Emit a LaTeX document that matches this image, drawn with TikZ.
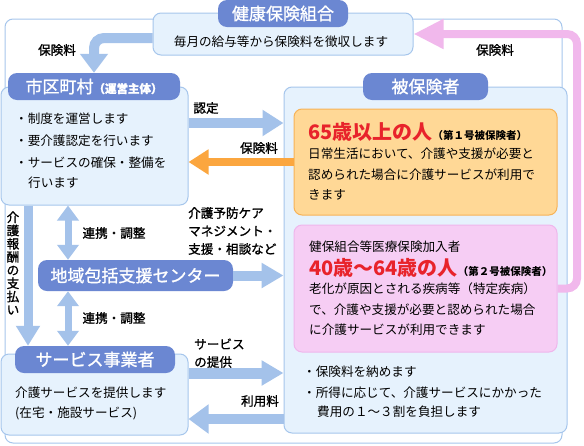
\documentclass[tikz,border=0pt]{standalone}
\usepackage{fontspec}
\setmainfont{Noto Sans CJK JP}
\newfontfamily\medfont{Noto Sans CJK JP}[FakeBold=1.2]
\usetikzlibrary{arrows.meta,calc}
\definecolor{boxfill}{HTML}{E6F2FD}
\definecolor{boxline}{HTML}{A6C6EC}
\definecolor{pillc}{HTML}{6B87D2}
\definecolor{arrblue}{HTML}{A4C2EA}
\definecolor{arrorange}{HTML}{FBA63F}
\definecolor{orfill}{HTML}{FFD896}
\definecolor{orline}{HTML}{F7B357}
\definecolor{pkfill}{HTML}{F6CDF4}
\definecolor{pkline}{HTML}{EFB6EC}
\definecolor{arrpink}{HTML}{F1B8EC}
\definecolor{redtxt}{HTML}{E8232B}
\tikzset{
  bbox/.style={draw=boxline, fill=boxfill, rounded corners=8pt, line width=1pt, inner sep=0pt},
  obox/.style={draw=orline, fill=orfill, rounded corners=8pt, line width=1pt, inner sep=0pt},
  pbox/.style={draw=pkline, fill=pkfill, rounded corners=8pt, line width=1pt, inner sep=0pt},
  pill/.style={fill=pillc, rounded corners=9pt, inner sep=0pt, text=white, font=\fontsize{17}{20}\selectfont\medfont},
  body/.style={anchor=west, inner sep=0pt, font=\fontsize{12.6}{15}\selectfont},
  lbl/.style={inner sep=0pt, font=\fontsize{12.6}{15}\selectfont\medfont},
  barrow/.style={draw=arrblue, line width=10pt, -{Triangle[length=21pt,width=25pt]}},
  darrow/.style={draw=arrblue, line width=7pt, {Triangle[length=15pt,width=21pt]}-{Triangle[length=15pt,width=21pt]}},
}
\begin{document}
\begin{tikzpicture}[x=1pt,y=-1pt]
\useasboundingbox (0,0) rectangle (584,445);
% outer frame
\node[draw=boxline, fill=white, rounded corners=8pt, line width=1pt, minimum width=557, minimum height=424] (frame) at (283.5,231) {};
% boxes
\node[bbox, minimum width=260, minimum height=42] (kenpo) at (283,34) {};
\node[pill, minimum width=130, minimum height=27] (kenpot) at (283,13.5) {健康保険組合};
\node[bbox, minimum width=187, minimum height=118] (shiku) at (94.5,146) {};
\node[pill, minimum width=172, minimum height=27] (shikut) at (94,86.5) {市区町村{\fontsize{11.5}{14}\selectfont\bfseries（運営主体）}};
\node[bbox, minimum width=283, minimum height=346] (hiho) at (425.5,260) {};
\node[pill, minimum width=125, minimum height=27] (hihot) at (425.5,86.5) {被保険者};
\node[obox, minimum width=263, minimum height=106] (orange) at (425.5,162) {};
\node[pbox, minimum width=263, minimum height=127] (pink) at (425.5,288.5) {};
\node[pill, minimum width=195, minimum height=31] (chiiki) at (135.5,275.5) {地域包括支援センター};
\node[bbox, minimum width=187, minimum height=81] (service) at (94.5,394.5) {};
\node[pill, minimum width=160, minimum height=27] (servicet) at (95,359.5) {サービス事業者};
% helper coordinates
\coordinate (ynin) at (0,123);
\coordinate (yteik) at (0,373);
\coordinate (yriyo) at (0,419);
\coordinate (xkai) at (28,0);
\coordinate (xren) at (68,0);
\coordinate (xpk) at (577,0);
% arrows
\draw[barrow, rounded corners=10pt, -{Triangle[length=19pt,width=27pt]}] ([yshift=-4pt]kenpo.west) -| (shikut.north);
\draw[barrow] (shiku.east |- ynin) -- (hiho.west |- ynin);
\draw[draw=arrorange, line width=8pt, -{Triangle[length=20pt,width=24pt]}] (orange.west) -- (orange.west -| shiku.east);
\draw[draw=arrpink, line width=8pt, rounded corners=10pt, -{Triangle[length=30pt,width=28pt]}] (pink.east) -| (xpk |- kenpo.east) -- (kenpo.east);
\draw[barrow, line width=9pt, -{Triangle[length=20pt,width=23pt]}] (xkai |- shiku.south) -- (xkai |- servicet.north);
\draw[darrow] (xren |- shiku.south) -- (xren |- chiiki.north);
\draw[darrow] (xren |- chiiki.south) -- (xren |- servicet.north);
\draw[barrow, -{Triangle[length=22pt,width=24pt]}] (chiiki.east) -- (chiiki.east -| hiho.west);
\draw[barrow, line width=11pt, -{Triangle[length=22pt,width=24pt]}] (service.east |- yteik) -- (hiho.west |- yteik);
\draw[barrow, -{Triangle[length=20pt,width=28pt]}] (hiho.west |- yriyo) -- (service.east |- yriyo);
% texts
\node[body, anchor=center] (t1) at (281,42) {毎月の給与等から保険料を徴収します};
\node[body] (s1) at (15,119) {・制度を運営します};
\node[body] (s2) at (15,141) {・要介護認定を行います};
\node[body] (s3) at (15,163) {・サービスの確保・整備を};
\node[body] (s4) at (28,183) {行います};
\node[body] (o1) at (308,132) {{\fontsize{20}{24}\selectfont\bfseries\color{redtxt}65歳以上の人}{\fontsize{10.5}{12}\selectfont\bfseries（第１号被保険者）}};
\node[body] (o2) at (308,154) {日常生活において、介護や支援が必要と};
\node[body] (o3) at (308,175) {認められた場合に介護サービスが利用で};
\node[body] (o4) at (308,195) {きます};
\node[body] (p1) at (309,247) {健保組合等医療保険加入者};
\node[body] (p2) at (309,268) {{\fontsize{20}{24}\selectfont\bfseries\color{redtxt}40歳～64歳の人}{\fontsize{10.5}{12}\selectfont\bfseries（第２号被保険者）}};
\node[body] (p3) at (309,289) {老化が原因とされる疾病等（特定疾病）};
\node[body] (p4) at (309,310) {で、介護や支援が必要と認められた場合};
\node[body] (p5) at (309,330) {に介護サービスが利用できます};
\node[body] (h1) at (303,372) {・保険料を納めます};
\node[body] (h2) at (303,393) {・所得に応じて、介護サービスにかかった};
\node[body] (h3) at (317,412) {費用の１～３割を負担します};
\node[body] (v1) at (15,393) {介護サービスを提供します};
\node[body] (v2) at (15,413) {(在宅・施設サービス)};
% labels
\node[lbl] (l1) at (57,50) {保険料};
\node[lbl] (l2) at (206,108) {認定};
\node[lbl] (l3) at (259,148) {保険料};
\node[lbl] (l4) at (495,50) {保険料};
\node[lbl] (l5) at (114,233) {連携・調整};
\node[lbl] (l6) at (114,318) {連携・調整};
\node[lbl, anchor=west] (l7) at (188,213) {介護予防ケア};
\node[lbl, anchor=west] (l8) at (188,231) {マネジメント・};
\node[lbl, anchor=west] (l9) at (188,249) {支援・相談など};
\node[lbl, anchor=west] (l10) at (194,344) {サービス};
\node[lbl, anchor=west] (l11) at (194,362) {の提供};
\node[lbl] (l12) at (260,401) {利用料};
\node[lbl, align=center, font=\fontsize{12.6}{13.2}\selectfont\medfont] (l13) at (13,263) {介\\護\\報\\酬\\の\\支\\払\\い};
\end{tikzpicture}
\end{document}
